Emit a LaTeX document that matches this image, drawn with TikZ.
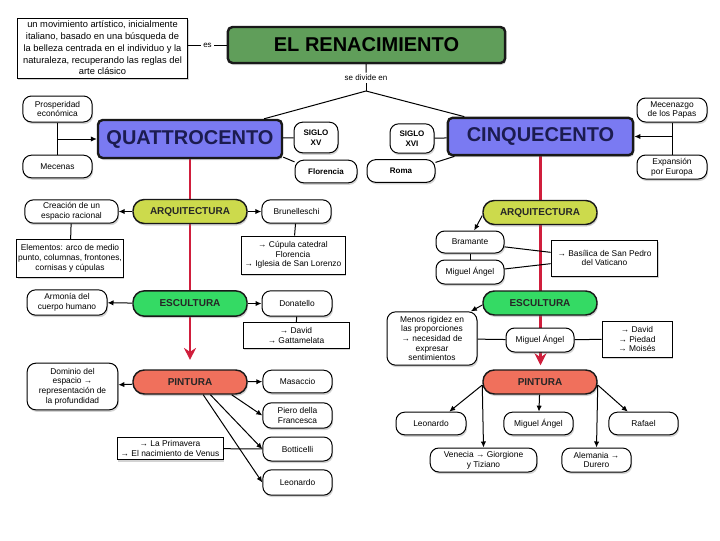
\documentclass[tikz,border=0pt]{standalone}
\usepackage{fontspec}
\setmainfont{Liberation Sans}
\usetikzlibrary{arrows.meta,shadows,backgrounds}

\definecolor{renGreen}{RGB}{96,158,90}
\definecolor{quatBlue}{RGB}{122,122,242}
\definecolor{navyTxt}{RGB}{28,28,80}
\definecolor{arqYellow}{RGB}{204,218,76}
\definecolor{escGreen}{RGB}{52,218,100}
\definecolor{pintRed}{RGB}{240,112,92}
\definecolor{axisRed}{RGB}{208,30,60}

\tikzset{every picture/.style={line width=0.75pt}}
\tikzset{
  shade box/.style={drop shadow={shadow xshift=0.8pt,shadow yshift=-1.5pt,opacity=0.35}},
  main/.style={draw=black!90,line width=1.8pt,rounded corners=3.5pt,font=\fontsize{15}{15}\selectfont\bfseries,inner sep=0pt,shade box},
  stage/.style={draw=black!90,line width=1.1pt,rounded corners=8.5pt,font=\fontsize{7.5}{8}\selectfont\bfseries,text=black!85,inner sep=0pt,minimum width=85.5pt,minimum height=18pt,shade box},
  pill/.style={draw,fill=white,rounded corners=6.5pt,align=center,font=\fontsize{6.3}{7.3}\selectfont,inner sep=1pt,minimum width=52pt,minimum height=17.5pt,shade box},
  note/.style={draw,fill=white,align=center,font=\fontsize{6.3}{7.3}\selectfont,inner sep=1pt,shade box},
  lbl/.style={fill=white,inner sep=1.5pt,font=\fontsize{6}{7}\selectfont},
  arr/.style={-{Latex[length=4.5pt,width=4pt]}},
  axis/.style={draw=axisRed,line width=1.8pt,-{Stealth[length=9pt,width=9pt]}},
}

\begin{document}
\begin{tikzpicture}[x=0.75pt,y=0.75pt,yscale=-1,xscale=1]
\useasboundingbox (0,0) rectangle (720,540);

% Top
\node[note,font=\fontsize{7}{8.8}\selectfont,minimum width=128pt,minimum height=45pt] (desc) at (102.5,48) {un movimiento artístico, inicialmente\\italiano, basado en una búsqueda de\\la belleza centrada en el individuo y la\\naturaleza, recuperando las reglas del\\arte clásico};
\node[main,fill=renGreen,minimum width=208pt,minimum height=27pt] (title) at (366.5,45) {EL RENACIMIENTO};
\node[lbl] (divide) at (366,78) {se divide en};
\coordinate (branch) at (366,91);

% Periods
\node[main,fill=quatBlue,text=navyTxt,minimum width=138pt,minimum height=28.5pt] (quattro) at (190,139) {QUATTROCENTO};
\node[main,fill=quatBlue,text=navyTxt,minimum width=139pt,minimum height=28pt] (cinque) at (540.5,136.5) {CINQUECENTO};
\node[pill,font=\fontsize{6}{7.3}\selectfont\bfseries,minimum width=33pt,minimum height=23pt] (sxv) at (316,137.5) {SIGLO\\XV};
\node[pill,font=\fontsize{6}{7.3}\selectfont\bfseries,minimum width=46.5pt,minimum height=17pt] (flor) at (326,171.5) {Florencia};
\node[pill,font=\fontsize{6}{7.3}\selectfont\bfseries,minimum width=33pt,minimum height=22pt] (sxvi) at (412,138.5) {SIGLO\\XVI};
\node[pill,font=\fontsize{6}{7.3}\selectfont\bfseries,minimum width=51pt,minimum height=17pt] (roma) at (401,171) {Roma};
\node[pill,minimum height=19.5pt] (prosp) at (57.5,109) {Prosperidad\\económica};
\node[pill,minimum height=17pt] (mecen) at (57.5,166.5) {Mecenas};
\node[pill,minimum width=52.5pt,minimum height=18pt] (papas) at (672,110) {Mecenazgo\\de los Papas};
\node[pill,minimum width=52.5pt,minimum height=18pt] (expan) at (672,167) {Expansión\\por Europa};

% Quattrocento
\node[stage,fill=arqYellow] (arqL) at (190,211.5) {ARQUITECTURA};
\node[pill,minimum width=70pt] (crea) at (71.5,211.5) {Creación de un\\espacio racional};
\node[note,minimum width=78pt,minimum height=28pt] (elem) at (70,258.5) {Elementos: arco de medio\\punto, columnas, frontones,\\cornisas y cúpulas};
\node[pill] (brun) at (296.5,211.5) {Brunelleschi};
\node[note,minimum width=78pt,minimum height=28.5pt] (cupula) at (293,255) {→ Cúpula catedral\\Florencia\\→ Iglesia de San Lorenzo};
\node[stage,fill=escGreen,minimum height=19pt] (escL) at (190,303.5) {ESCULTURA};
\node[pill,minimum width=60pt,minimum height=19pt] (armon) at (67,302.5) {Armonía del\\cuerpo humano};
\node[pill,minimum width=52.5pt,minimum height=19pt] (donat) at (297,303.5) {Donatello};
\node[note,minimum width=79.5pt,minimum height=19pt] (davidL) at (296,335.5) {→ David\\→ Gattamelata};
\node[stage,fill=pintRed] (pintL) at (190,382) {PINTURA};
\node[pill,minimum width=68pt,minimum height=35pt] (domin) at (72.5,386.5) {Dominio del\\espacio →\\representación de\\la profundidad};
\node[pill,minimum height=17pt] (masac) at (297.5,381.5) {Masaccio};
\node[pill,minimum height=19pt] (piero) at (297.5,415.5) {Piero della\\Francesca};
\node[pill,minimum height=18pt] (botti) at (297.5,449) {Botticelli};
\node[pill,minimum height=19pt] (leoL) at (297.5,482.5) {Leonardo};
\node[note,minimum width=79.5pt,minimum height=17pt] (prima) at (170,448.5) {→ La Primavera\\→ El nacimiento de Venus};

% Cinquecento
\node[stage,fill=arqYellow] (arqR) at (540,212.5) {ARQUITECTURA};
\node[pill,minimum width=51pt,minimum height=16.5pt] (bram) at (470,242) {Bramante};
\node[pill,minimum width=51pt,minimum height=18pt] (migA) at (470,272) {Miguel Ángel};
\node[note,minimum width=80pt,minimum height=27pt] (basil) at (604.5,258) {→ Basílica de San Pedro\\del Vaticano};
\node[stage,fill=escGreen] (escR) at (540,303) {ESCULTURA};
\node[pill,minimum width=67.5pt,minimum height=40pt] (menos) at (432,338.5) {Menos rigidez en\\las proporciones\\→ necesidad de\\expresar\\sentimientos};
\node[pill,minimum width=51pt,minimum height=18pt] (migB) at (540,340) {Miguel Ángel};
\node[note,minimum width=52.5pt,minimum height=27pt] (obras) at (637,339) {→ David\\→ Piedad\\→ Moisés};
\node[stage,fill=pintRed] (pintR) at (540,382) {PINTURA};
\node[pill,minimum width=52.5pt,minimum height=17pt] (leoR) at (431,423.5) {Leonardo};
\node[pill,minimum height=17pt] (migC) at (538.5,423.5) {Miguel Ángel};
\node[pill,minimum height=17pt] (rafa) at (643.5,423.5) {Rafael};
\node[pill,minimum width=80pt,minimum height=18pt] (vene) at (483.5,460) {Venecia → Giorgione\\y Tiziano};
\node[pill,minimum height=18pt] (alem) at (596.5,460) {Alemania →\\Durero};

% Links
\draw (desc.east |- title.west) -- node[lbl]{es} (title.west);
\draw (title) -- (divide);
\draw (divide) -- (branch);
\draw (branch) -- (quattro);
\draw (branch) -- (cinque);
\draw (quattro) -- (sxv);
\draw (quattro.-11) -- (flor.163);
\draw (cinque) -- (sxvi);
\draw (roma.14) -- (cinque.-167);
\draw (prosp) -- (mecen);
\draw[arr] (prosp.south |- quattro.west) -- (quattro.west);
\draw (papas) -- (expan);
\draw[arr] (papas.south |- cinque.east) -- (cinque.east);

\draw[arr] (arqL) -- (crea);
\draw (crea) -- (elem);
\draw[arr] (arqL) -- (brun);
\draw (brun) -- (cupula);
\draw[arr] (escL) -- (armon);
\draw[arr] (escL) -- (donat);
\draw (donat) -- (davidL);
\draw[arr] (pintL) -- (domin);
\draw[arr] (pintL) -- (masac);
\draw[arr] (pintL.-17) -- (piero.west);
\draw[arr] (pintL.-32) -- (botti.west);
\draw[arr] (pintL.-44) -- (leoL.west);
\draw (prima) -- (botti);

\draw[arr] (arqR.183) -- (bram.70);
\draw (bram) -- (migA);
\draw (bram.-8) -- (basil.174);
\draw (migA.5) -- (basil.186);
\draw[arr] (escR.182) -- (menos.35);
\draw (menos) -- (migB);
\draw (migB) -- (obras);
\draw[arr] (pintR.183) -- (leoR.33);
\draw[arr] (pintR) -- (migC);
\draw[arr] (pintR.183) -- (vene.north);
\draw[arr] (pintR.-3) -- (alem.north);
\draw[arr] (pintR.-3) -- (rafa.143);

% Main axes
\begin{scope}[on background layer]
\draw[axis,shorten >=7pt] (quattro.south) -- (quattro.south |- pintL.north);
\draw[axis,shorten >=3pt] (cinque.south) -- (cinque.south |- pintR.north);
\end{scope}

\end{tikzpicture}
\end{document}
